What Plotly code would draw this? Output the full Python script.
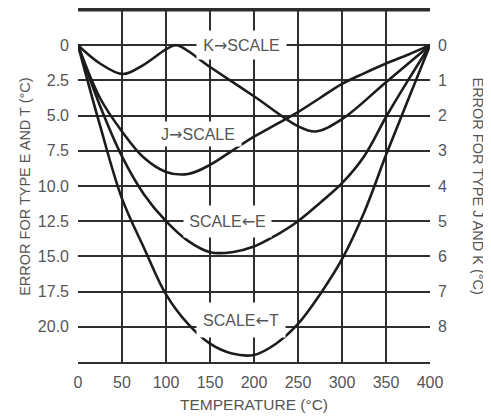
import plotly.graph_objects as go

# ---- data ----
temp = [0, 25, 50, 75, 100, 125, 150, 175, 200, 225, 250, 275, 300, 325, 350, 375, 400]
err_T = [0, 5.7, 10.9, 14.4, 17.7, 19.8, 21.2, 21.9, 22.0, 21.2, 19.8, 17.7, 15.2, 11.9, 7.8, 3.9, 0]
err_E = [0, 4.3, 7.9, 10.6, 12.5, 13.9, 14.7, 14.7, 14.3, 13.5, 12.5, 11.2, 9.8, 7.9, 5.1, 2.5, 0]
err_J = [0, 1.5, 2.45, 3.2, 3.6, 3.66, 3.4, 3.0, 2.6, 2.25, 1.9, 1.5, 1.1, 0.8, 0.52, 0.27, 0]
temp_K = [0, 25, 51, 75, 100, 112, 150, 200, 250, 270, 300, 350, 400]
err_K = [0, 0.52, 0.82, 0.55, 0.12, 0, 0.62, 1.45, 2.3, 2.45, 2.1, 1.05, 0]

x_ticks = [0, 50, 100, 150, 200, 250, 300, 350, 400]
left_ticks = [0, 2.5, 5.0, 7.5, 10.0, 12.5, 15.0, 17.5, 20.0]
left_text = ["0", "2.5", "5.0", "7.5", "10.0", "12.5", "15.0", "17.5", "20.0"]
right_ticks = [0, 1, 2, 3, 4, 5, 6, 7, 8]

FONT = "Liberation Sans, Arial, sans-serif"
TXT = "#555555"
GRID = "#2e2e2e"
CURVE = "#1c1c1c"

fig = go.Figure()
line = dict(color=CURVE, width=2.6, shape="spline", smoothing=1.0)
fig.add_trace(go.Scatter(x=temp, y=err_T, mode="lines", line=line, yaxis="y", hoverinfo="skip"))
fig.add_trace(go.Scatter(x=temp, y=err_E, mode="lines", line=line, yaxis="y", hoverinfo="skip"))
fig.add_trace(go.Scatter(x=temp, y=err_J, mode="lines", line=line, yaxis="y2", hoverinfo="skip"))
fig.add_trace(go.Scatter(x=temp_K, y=err_K, mode="lines", line=line, yaxis="y2", hoverinfo="skip"))

RA = "<span style='font-family:DejaVu Sans'>\u2192</span>"
LA = "<span style='font-family:DejaVu Sans'>\u2190</span>"
labels = [
    ("K" + RA + "SCALE", 186, 0.0, 89, 28),
    ("J" + RA + "SCALE", 136, 6.3, 86, 24),
    ("SCALE" + LA + "E", 170, 12.5, 87, 31),
    ("SCALE" + LA + "T", 185, 19.5, 88, 34),
]
annotations = []
for txt, ax_, ay_, w, h in labels:
    annotations.append(dict(
        text=txt, x=ax_, y=ay_, xref="x", yref="y", showarrow=False,
        bgcolor="white", width=w, height=h, borderpad=0,
        font=dict(family=FONT, size=16, color=TXT),
    ))
annotations.append(dict(
    text="ERROR FOR TYPE E AND T (\u00b0C)", textangle=-90,
    x=-0.151, xref="paper", xanchor="center", y=0.5, yref="paper", yanchor="middle",
    showarrow=False, font=dict(family=FONT, size=14.5, color=TXT),
))
annotations.append(dict(
    text="ERROR FOR TYPE J AND K (\u00b0C)", textangle=90,
    x=1.135, xref="paper", xanchor="center", y=0.5, yref="paper", yanchor="middle",
    showarrow=False, font=dict(family=FONT, size=14.5, color=TXT),
))
annotations.append(dict(
    text="TEMPERATURE (\u00b0C)",
    x=0.5, xref="paper", xanchor="center", y=-0.122, yref="paper", yanchor="middle",
    showarrow=False, font=dict(family=FONT, size=15.5, color=TXT),
))

# the page body has an 8px default margin, so the figure is made smaller
fig.update_layout(
    width=483, height=409,
    margin=dict(l=70, r=61, t=2, b=55, autoexpand=False),
    paper_bgcolor="white", plot_bgcolor="white",
    showlegend=False,
    font=dict(family=FONT, size=16, color=TXT),
    xaxis=dict(
        range=[0, 400], tickvals=x_ticks, showgrid=True, gridcolor=GRID, gridwidth=2,
        showline=True, linecolor=GRID, linewidth=2, mirror=True, zeroline=False,
        ticks="", ticklabelstandoff=5, automargin=False,
        tickfont=dict(family=FONT, size=16, color=TXT),
    ),
    yaxis=dict(
        range=[22.5, -2.5], tickvals=left_ticks, ticktext=left_text,
        showgrid=True, gridcolor=GRID, gridwidth=2,
        showline=False, zeroline=False,
        ticks="", ticklabelstandoff=8, automargin=False,
        tickfont=dict(family=FONT, size=16, color=TXT),
    ),
    yaxis2=dict(
        range=[9, -1], tickvals=right_ticks, overlaying="y", side="right",
        showgrid=False, showline=False, zeroline=False, ticks="",
        ticklabelstandoff=7, automargin=False,
        tickfont=dict(family=FONT, size=16, color=TXT),
    ),
    shapes=[dict(type="line", xref="x", yref="y", x0=0, y0=-2.5, x1=400, y1=-2.5,
                 line=dict(color=GRID, width=3), layer="above")],
    annotations=annotations,
)

fig.write_html("out.html")
